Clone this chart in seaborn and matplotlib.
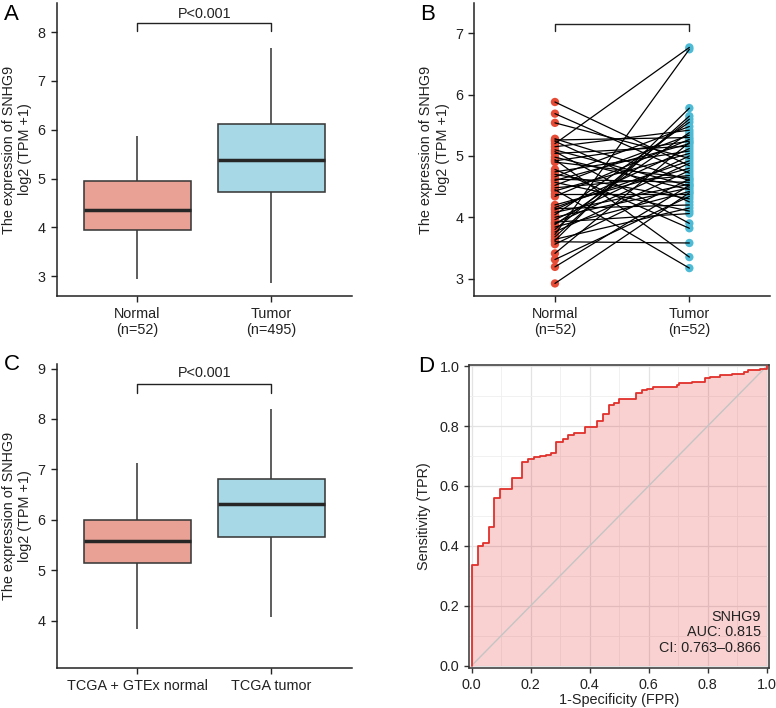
import numpy as np
import pandas as pd
import matplotlib
matplotlib.use("Agg")
import matplotlib.pyplot as plt
from matplotlib.ticker import MultipleLocator
import seaborn as sns

# ---------------- data ----------------
# Panel A: five-number summaries (min, Q1, median, Q3, max)
groups_a = ["Normal\n(n=52)", "Tumor\n(n=495)"]
summary_a_normal = [2.94, 3.955, 4.36, 4.94, 5.875]
summary_a_tumor = [2.87, 4.72, 5.38, 6.11, 7.68]

# Panel B: paired samples (index i = same patient)
groups_b = ["Normal\n(n=52)", "Tumor\n(n=52)"]
normal_b = [5.88, 5.69, 5.54, 5.28, 5.26, 5.24, 5.20, 5.15, 5.10, 5.07,
            5.04, 4.98, 4.94, 4.92, 4.90, 4.78, 4.74, 4.70, 4.66, 4.62,
            4.60, 4.57, 4.52, 4.48, 4.45, 4.43, 4.38, 4.34, 4.20, 4.16,
            4.14, 4.12, 4.08, 4.04, 4.00, 3.96, 3.92, 3.90, 3.88, 3.84,
            3.80, 3.76, 3.72, 3.68, 3.64, 3.62, 3.60, 3.56, 3.41, 3.31,
            3.19, 2.92]
tumor_b = [4.84, 4.72, 4.96, 4.60, 5.30, 4.25, 6.77, 5.42, 4.51, 3.90,
           5.16, 4.45, 3.35, 5.24, 4.64, 3.82, 5.08, 4.30, 5.48, 4.57,
           5.20, 4.10, 5.34, 4.68, 3.17, 5.04, 4.38, 5.27, 4.80, 4.92,
           4.20, 5.12, 4.54, 5.55, 4.48, 5.00, 4.06, 4.88, 5.38, 4.42,
           5.60, 4.76, 6.74, 5.65, 4.15, 5.78, 3.58, 4.62, 5.22, 4.34,
           4.52, 4.40]

# Panel C: five-number summaries
groups_c = ["TCGA + GTEx normal", "TCGA tumor"]
summary_c_normal = [3.83, 5.14, 5.58, 5.99, 7.12]
summary_c_tumor = [4.08, 5.67, 6.32, 6.81, 8.19]

# Panel D: ROC curve vertices (step-post)
roc_fpr = [0.0, 0.0, 0.020, 0.040, 0.058, 0.077, 0.095, 0.137, 0.172, 0.191,
           0.211, 0.232, 0.251, 0.270, 0.287, 0.308, 0.327, 0.348, 0.384, 0.425,
           0.444, 0.464, 0.481, 0.499, 0.557, 0.576, 0.593, 0.616, 0.655, 0.695,
           0.704, 0.746, 0.791, 0.808, 0.842, 0.882, 0.924, 0.938, 0.978, 1.0]
roc_tpr = [0.0, 0.335, 0.401, 0.410, 0.462, 0.559, 0.590, 0.626, 0.681, 0.689,
           0.698, 0.700, 0.702, 0.710, 0.746, 0.757, 0.769, 0.776, 0.798, 0.818,
           0.839, 0.870, 0.878, 0.889, 0.911, 0.921, 0.925, 0.929, 0.932, 0.938,
           0.943, 0.948, 0.960, 0.963, 0.969, 0.974, 0.982, 0.987, 0.990, 1.0]
diag = [0.0, 1.0]
roc_text = "SNHG9\nAUC: 0.815\nCI: 0.763\u20130.866"

ylabel_text = "The expression of SNHG9\nlog2 (TPM +1)"
pval_text = "P<0.001"

# ---------------- style ----------------
sns.set_theme(style="ticks")
plt.rcParams["font.family"] = ["Liberation Sans", "DejaVu Sans"]
plt.rcParams["axes.linewidth"] = 1.0
plt.rcParams["xtick.major.width"] = 1.0
plt.rcParams["ytick.major.width"] = 1.0

RED_FILL = "#E9A196"
BLUE_FILL = "#A6D8E5"
RED_PT = "#E64B35"
BLUE_PT = "#4DBBD5"
EDGE = "#3a3a3a"
TXT = "#222222"
FS = 10.4

W, H = 776, 708
fig = plt.figure(figsize=(W / 100, H / 100), dpi=100)


def add_ax(left, top, right, bottom):
    return fig.add_axes([left / W, 1 - bottom / H, (right - left) / W, (bottom - top) / H])


def style_axis(ax):
    for s in ("top", "right"):
        ax.spines[s].set_visible(False)
    for s in ("left", "bottom"):
        ax.spines[s].set_color(TXT)
        ax.spines[s].set_linewidth(1.1)
    ax.tick_params(axis="both", colors=TXT, labelcolor=TXT, labelsize=FS, length=4.5, width=1.0)


def bracket(ax, y_line, y_end, y_txt, txt):
    ax.plot([0, 0, 1, 1], [y_end, y_line, y_line, y_end], color=TXT, lw=1.0, clip_on=False)
    if txt:
        ax.text(0.5, y_txt, txt, ha="center", va="center", fontsize=FS, color=TXT)


def box_panel(ax, groups, s_norm, s_tum, ylim, yticks, br):
    df = pd.DataFrame({
        "group": [groups[0]] * len(s_norm) + [groups[1]] * len(s_tum),
        "value": s_norm + s_tum,
    })
    sns.boxplot(data=df, x="group", y="value", hue="group", order=groups,
                palette=[RED_FILL, BLUE_FILL], saturation=1, width=0.8,
                whis=(0, 100), showcaps=False, linecolor=EDGE, linewidth=1.15,
                medianprops=dict(color="#262626", linewidth=2.5),
                legend=False, ax=ax)
    ax.set_xlim(-0.6, 1.6)
    ax.set_ylim(*ylim)
    ax.set_yticks(yticks)
    ax.set_xlabel("")
    ax.set_ylabel(ylabel_text, fontsize=FS, color=TXT, labelpad=4)
    style_axis(ax)
    bracket(ax, *br)


# Panel A
axA = add_ax(56.7, 3.3, 351.7, 295.7)
box_panel(axA, groups_a, summary_a_normal, summary_a_tumor,
          (2.60, 8.59), [3, 4, 5, 6, 7, 8], (8.18, 8.03, 8.375, pval_text))

# Panel C
axC = add_ax(56.7, 364.0, 351.7, 667.7)
box_panel(axC, groups_c, summary_c_normal, summary_c_tumor,
          (3.07, 9.09), [4, 5, 6, 7, 8, 9], (8.69, 8.52, 8.91, pval_text))

# Panel B
axB = add_ax(474.3, 3.3, 770.0, 295.7)
n = len(normal_b)
df_b = pd.DataFrame({
    "pair": list(range(n)) * 2,
    "group": [groups_b[0]] * n + [groups_b[1]] * n,
    "value": normal_b + tumor_b,
})
df_b["xpos"] = df_b["group"].map({g: i for i, g in enumerate(groups_b)})
sns.stripplot(data=df_b, x="group", y="value", hue="group", order=groups_b,
              palette=[RED_PT, BLUE_PT], jitter=False, size=6.0, linewidth=0,
              legend=False, ax=axB, zorder=2)
sns.lineplot(data=df_b, x="xpos", y="value", units="pair", estimator=None,
             color="black", lw=0.9, ax=axB, zorder=3, legend=False)
axB.set_xlim(-0.6, 1.6)
axB.set_ylim(2.72, 7.49)
axB.set_xticks([0, 1])
axB.set_xticklabels(groups_b)
axB.set_yticks([3, 4, 5, 6, 7])
axB.set_xlabel("")
axB.set_ylabel(ylabel_text, fontsize=FS, color=TXT, labelpad=4)
style_axis(axB)
bracket(axB, 7.16, 7.04, 7.3, "")

# Panel D
axD = add_ax(469.3, 364.7, 769.0, 668.3)
axD.set_xlim(-0.008, 1.008)
axD.set_ylim(-0.009, 1.005)
axD.xaxis.set_major_locator(MultipleLocator(0.2))
axD.yaxis.set_major_locator(MultipleLocator(0.2))
axD.xaxis.set_minor_locator(MultipleLocator(0.1))
axD.yaxis.set_minor_locator(MultipleLocator(0.1))
axD.grid(which="major", color="#e3e3e3", lw=0.9, zorder=0)
axD.grid(which="minor", color="#efefef", lw=0.6, zorder=0)
axD.set_axisbelow(True)
axD.fill_between(roc_fpr, roc_tpr, 0, step="post", color="#E41A1C", alpha=0.2, lw=0, zorder=1)
sns.lineplot(x=diag, y=diag, color="#c4c4c4", lw=1.0, ax=axD, zorder=2)
sns.lineplot(x=roc_fpr, y=roc_tpr, drawstyle="steps-post", estimator=None, sort=False,
             color="#E0302B", lw=1.3, ax=axD, zorder=3)
axD.set_xticks([0, 0.2, 0.4, 0.6, 0.8, 1.0])
axD.set_xticklabels(["0.0", "0.2", "0.4", "0.6", "0.8", "1.0"])
axD.set_yticks([0, 0.2, 0.4, 0.6, 0.8, 1.0])
axD.set_yticklabels(["0.0", "0.2", "0.4", "0.6", "0.8", "1.0"])
axD.tick_params(axis="both", which="major", colors="#333333", labelcolor=TXT,
                labelsize=FS, length=3.5, width=1.0)
axD.tick_params(axis="both", which="minor", length=0)
for s in axD.spines.values():
    s.set_visible(True)
    s.set_color("#333333")
    s.set_linewidth(1.1)
axD.set_xlabel("1-Specificity (FPR)", fontsize=FS, color=TXT, labelpad=1)
axD.set_ylabel("Sensitivity (TPR)", fontsize=FS, color=TXT, labelpad=6)
axD.text(0.98, 0.111, roc_text, ha="right", va="center", fontsize=FS,
         color=TXT, linespacing=1.15, multialignment="right")

# Panel letters
for letter, x, y in [("A", 4, 15), ("B", 420, 15), ("C", 4, 364), ("D", 418, 367)]:
    fig.text(x / W, 1 - y / H, letter, ha="left", va="center", fontsize=16, color="black")

fig.savefig("out.png", dpi=100)
